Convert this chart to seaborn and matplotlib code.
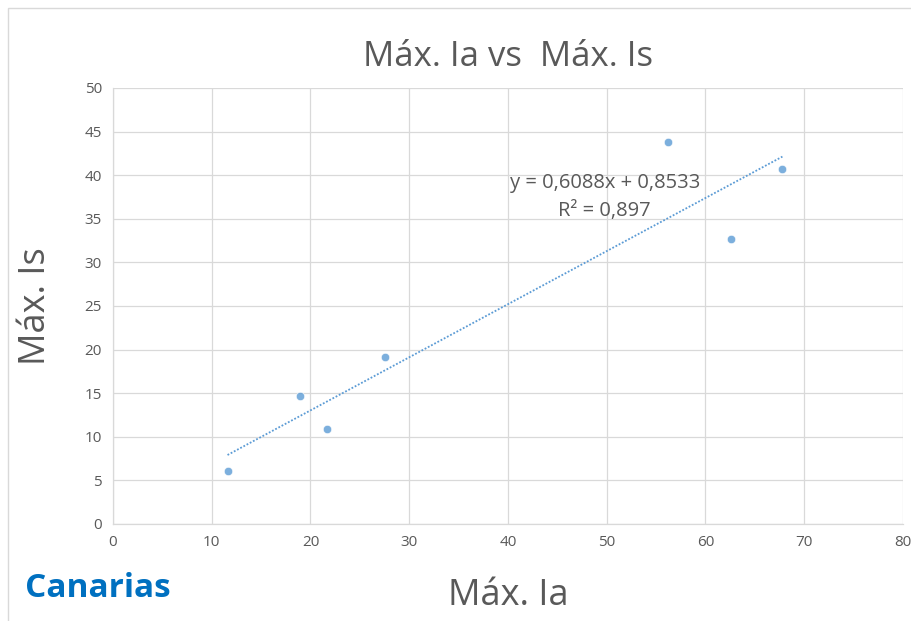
import numpy as np
import pandas as pd
import matplotlib
matplotlib.use("Agg")
import matplotlib.pyplot as plt
import seaborn as sns
from matplotlib.patches import Rectangle

# Data
max_ia = [11.6, 18.9, 21.7, 27.5, 56.2, 62.6, 67.8]
max_is = [6.1, 14.7, 10.9, 19.2, 43.8, 32.7, 40.7]
x_ticks = [0, 10, 20, 30, 40, 50, 60, 70, 80]
y_ticks = [0, 5, 10, 15, 20, 25, 30, 35, 40, 45, 50]
title = "Máx. Ia vs  Máx. Is"
x_label = "Máx. Ia"
y_label = "Máx. Is"
equation = "y = 0,6088x + 0,8533"
r2_text = "R² = 0,897"
region = "Canarias"

df = pd.DataFrame({"x": max_ia, "y": max_is})

sns.set_style("white")
plt.rcParams["font.family"] = ["Open Sans", "DejaVu Sans"]

gray = "#595959"
blue = "#5B9BD5"

fig = plt.figure(figsize=(9.12, 6.21), dpi=100)
ax = fig.add_axes([0.1239, 0.1562, 0.8661, 0.7021])

sns.regplot(data=df, x="x", y="y", ax=ax, ci=None, truncate=True,
            scatter_kws=dict(s=36, color=blue, edgecolor="white", linewidths=0.5, zorder=3),
            line_kws=dict(color=blue, linestyle=(0, (1, 1)), linewidth=1.3, zorder=2))

ax.set_xlim(0, 80)
ax.set_ylim(0, 50)
ax.set_xticks(x_ticks)
ax.set_yticks(y_ticks)
ax.grid(True, color="#d9d9d9", linewidth=0.9)
ax.set_axisbelow(True)
for s in ["top", "right"]:
    ax.spines[s].set_visible(False)
for s in ["left", "bottom"]:
    ax.spines[s].set_color("#d9d9d9")
    ax.spines[s].set_linewidth(0.9)
ax.tick_params(axis="both", length=0, labelsize=11, colors=gray, pad=8)

ax.set_xlabel(x_label, fontsize=26, color=gray, labelpad=20)
ax.set_ylabel(y_label, fontsize=26, color=gray, labelpad=22)
ax.set_title(title, fontsize=25, color=gray, pad=16)

ax.text(49.8, 39.1, equation, ha="center", va="center", fontsize=14.5, color=gray)
ax.text(49.8, 35.9, r2_text, ha="center", va="center", fontsize=14.5, color=gray)

fig.text(0.027, 0.025, region, fontsize=24, fontweight="bold", color="#0070C0", ha="left", va="bottom")

fig.patches.append(Rectangle((0.009, -0.01), 1.1, 0.997, transform=fig.transFigure,
                             fill=False, edgecolor="#d9d9d9", linewidth=1))

fig.savefig("out.png", dpi=100, facecolor="white")
